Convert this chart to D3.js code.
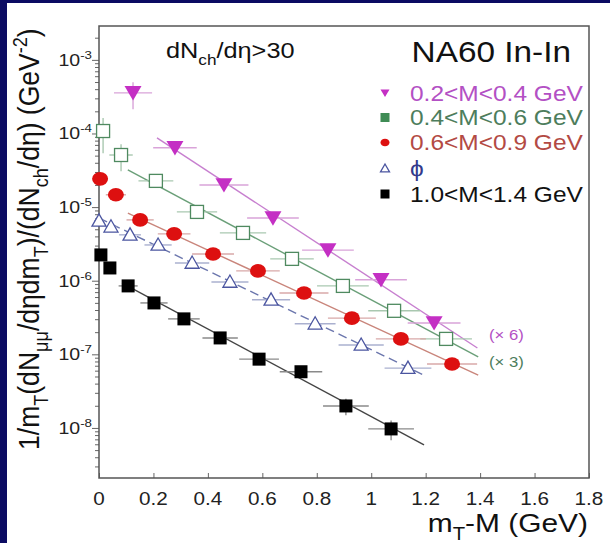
<!DOCTYPE html>
<html>
<head>
<meta charset="utf-8">
<script src="https://cdn.jsdelivr.net/npm/d3@7"></script>
<style>
body { margin: 0; background: #fff; }
svg { display: block; font-family: "Liberation Sans", Arial, sans-serif; }
</style>
</head>
<body>
<svg id="chart" width="610" height="543"></svg>
<script>
// axis ticks
var xTicks = [0, 0.2, 0.4, 0.6, 0.8, 1, 1.2, 1.4, 1.6, 1.8];
var yDecades = [-8, -7, -6, -5, -4, -3];

var legendLabels = ["0.2<M<0.4 GeV", "0.4<M<0.6 GeV", "0.6<M<0.9 GeV", "\u03d5", "1.0<M<1.4 GeV"];
var scaleNotes = ["(\u00d7 6)", "(\u00d7 3)"];

// 0.2<M<0.4 (x6)
var lowX = [0.125, 0.279, 0.459, 0.639, 0.841, 1.036, 1.231];
var lowY = [3.56e-4, 6.4e-5, 2.0e-5, 7.1e-6, 2.6e-6, 1.03e-6, 2.67e-7];
var lowXErr = [0.07, 0.08, 0.09, 0.095, 0.095, 0.095, 0.097];
var lowYErr = [0.4, 0, 0, 0, 0, 0, 0];

// 0.4<M<0.6 (x3)
var midX = [0.015, 0.081, 0.209, 0.36, 0.529, 0.709, 0.896, 1.084, 1.275];
var midY = [1.08e-4, 5.1e-5, 2.27e-5, 8.6e-6, 4.46e-6, 1.98e-6, 8.5e-7, 3.9e-7, 1.62e-7];
var midXErr = [0.025, 0.043, 0.064, 0.074, 0.085, 0.08, 0.095, 0.095, 0.095];
var midYErr = [0.5, 0.4, 0, 0, 0, 0, 0, 0, 0];

// 0.6<M<0.9
var omX = [0.004, 0.062, 0.151, 0.276, 0.419, 0.584, 0.753, 0.929, 1.109, 1.297];
var omY = [2.42e-5, 1.47e-5, 6.7e-6, 4.33e-6, 2.31e-6, 1.36e-6, 6.8e-7, 3.1e-7, 1.62e-7, 7.4e-8];
var omXErr = [0.01, 0.037, 0.05, 0.06, 0.077, 0.08, 0.09, 0.088, 0.092, 0.092];

// phi
var phiX = [0.0, 0.044, 0.114, 0.217, 0.342, 0.481, 0.632, 0.794, 0.963, 1.135];
var phiY = [6.5e-6, 5.4e-6, 4.2e-6, 3.06e-6, 1.74e-6, 9.6e-7, 5.5e-7, 2.6e-7, 1.34e-7, 6.5e-8];
var phiXErr = [0.018, 0.02, 0.04, 0.05, 0.063, 0.068, 0.07, 0.075, 0.083, 0.086];

// 1.0<M<1.4
var highX = [0.007, 0.04, 0.107, 0.202, 0.312, 0.445, 0.588, 0.742, 0.907, 1.073];
var highY = [2.24e-6, 1.49e-6, 8.5e-7, 4.99e-7, 3.03e-7, 1.67e-7, 8.6e-8, 5.8e-8, 1.99e-8, 9.7e-9];
var highXErr = [0.01, 0.012, 0.035, 0.05, 0.058, 0.065, 0.073, 0.078, 0.084, 0.084];
var highYErr = [0, 0, 0, 0, 0, 0, 0, 0, 0.25, 0.3];

// exponential fits (end points, in plot order above)
var fitX0 = [0.213, 0.106, 0.106, 0.0, 0.085];
var fitX1 = [1.39, 1.393, 1.393, 1.194, 1.194];
var fitY0 = [8.7e-5, 3.2e-5, 8.3e-6, 7.1e-6, 9.3e-7];
var fitY1 = [1.22e-7, 9.2e-8, 5.2e-8, 5.2e-8, 5.9e-9];

// picture is a bit stretched sideways, text follows that
var SX = 1.15;

var series = [
    {x: lowX, y: lowY, xe: lowXErr, ye: lowYErr, shape: 'tridown', size: 17, fill: '#c42fc4', stroke: '#c42fc4', bar: '#d9a3d9', fit: '#c77fcf', text: '#b350c4'},
    {x: midX, y: midY, xe: midXErr, ye: midYErr, shape: 'opensquare', size: 13, fill: '#3f8c55', stroke: '#4f8a60', bar: '#a9c8b0', fit: '#6a9f78', text: '#4d7d5c'},
    {x: omX, y: omY, xe: omXErr, ye: null, shape: 'circle', size: 16, fill: '#dd1010', stroke: '#dd1010', bar: '#d8a8a8', fit: '#c9857b', text: '#b34a44'},
    {x: phiX, y: phiY, xe: phiXErr, ye: null, shape: 'opentri', size: 14, fill: '#4b55a0', stroke: '#4b55a0', bar: '#aab0cf', fit: '#6b76ad', text: '#333a8c', dash: '9,5'},
    {x: highX, y: highY, xe: highXErr, ye: highYErr, shape: 'square', size: 13, fill: '#000', stroke: '#000', bar: '#8a8a8a', fit: '#444', text: '#111'}
];

var svg = d3.select('#chart');
var W = 610, H = 543;
var margin = {left: 99, right: 21, top: 26, bottom: 65};

svg.append('rect').attr('width', W).attr('height', H).attr('fill', '#fff');
svg.append('rect').attr('width', W).attr('height', 3).attr('fill', '#0b0b62');
svg.append('rect').attr('width', 7).attr('height', H).attr('fill', '#0b0b62');

var x = d3.scaleLinear().domain([0, 1.8]).range([margin.left, W - margin.right]);
var y = d3.scaleLog().domain([Math.pow(10, -8.68), Math.pow(10, -2.54)]).range([H - margin.bottom, margin.top]);

function richText(t, parts, size) {
    var shift = 0;
    parts.forEach(function(p) {
        var target = p[1] == 'sub' ? size * 0.3 : (p[1] == 'sup' ? -size * 0.42 : 0);
        t.append('tspan')
            .attr('dy', target - shift)
            .attr('font-size', p[1] ? size * 0.68 : size)
            .text(p[0]);
        shift = target;
    });
    return t;
}

// anchor by measuring, text-anchor drifts with the scaled tspans
function label(px, py, parts, size, color, anchor) {
    var t = svg.append('text')
        .attr('font-size', size)
        .attr('fill', color || '#111');
    richText(t, parts, size);
    var w = t.node().getComputedTextLength();
    var shiftX = anchor == 'end' ? -w * SX : (anchor == 'middle' ? -w * SX / 2 : 0);
    t.attr('transform', 'translate(' + (px + shiftX) + ',' + py + ') scale(' + SX + ',1)');
    return t;
}

// axes
var majors = yDecades.map(function(d) { return Math.pow(10, d); });
var minors = [];
d3.range(-9, -2).forEach(function(d) {
    for (var k = 2; k < 10; k++) {
        var v = k * Math.pow(10, d);
        if (v > y.domain()[0] && v < y.domain()[1]) minors.push(v);
    }
});

svg.append('g')
    .attr('transform', 'translate(' + margin.left + ',0)')
    .call(d3.axisLeft(y).tickValues(minors).tickSize(4).tickFormat(''))
    .call(function(g) { g.select('.domain').remove(); g.selectAll('line').attr('stroke', '#666'); });
svg.append('g')
    .attr('transform', 'translate(' + margin.left + ',0)')
    .call(d3.axisLeft(y).tickValues(majors).tickSize(7).tickFormat(''))
    .call(function(g) { g.select('.domain').remove(); g.selectAll('line').attr('stroke', '#666'); });

var xAxis = svg.append('g')
    .attr('transform', 'translate(0,' + (H - margin.bottom) + ')')
    .call(d3.axisBottom(x).tickValues(xTicks).tickSize(-5).tickFormat(''));
xAxis.select('.domain').remove();
xAxis.selectAll('line').attr('stroke', '#666');
xTicks.forEach(function(d) {
    label(x(d), H - margin.bottom + 27, [[String(d)]], 18, '#222', 'middle');
});

yDecades.forEach(function(d) {
    label(92, y(Math.pow(10, d)) + 6, [['10'], [String(d), 'sup']], 17, '#222', 'end');
});

// frame
svg.append('rect')
    .attr('x', margin.left).attr('y', margin.top)
    .attr('width', W - margin.left - margin.right)
    .attr('height', H - margin.top - margin.bottom)
    .attr('fill', 'none').attr('stroke', '#555').attr('stroke-width', 1.5);

var plot = svg.append('g');

// fits
series.forEach(function(s, i) {
    plot.append('line')
        .attr('x1', x(fitX0[i])).attr('y1', y(fitY0[i]))
        .attr('x2', x(fitX1[i])).attr('y2', y(fitY1[i]))
        .attr('stroke', s.fit).attr('stroke-width', 1.4)
        .attr('stroke-dasharray', s.dash || null);
});

// error bars
series.forEach(function(s) {
    s.x.forEach(function(xv, j) {
        plot.append('line')
            .attr('x1', x(xv - s.xe[j])).attr('x2', x(xv + s.xe[j]))
            .attr('y1', y(s.y[j])).attr('y2', y(s.y[j]))
            .attr('stroke', s.bar).attr('stroke-width', 1.4);
        if (s.ye && s.ye[j]) {
            plot.append('line')
                .attr('x1', x(xv)).attr('x2', x(xv))
                .attr('y1', y(s.y[j] * (1 - s.ye[j]))).attr('y2', y(s.y[j] * (1 + s.ye[j])))
                .attr('stroke', s.bar).attr('stroke-width', 1.4);
        }
    });
});

function marker(g, shape, cx, cy, sz, s) {
    var h = sz / 2;
    if (shape == 'tridown') {
        g.append('path').attr('d', 'M' + (cx - h) + ',' + (cy - h * 0.8) + 'L' + (cx + h) + ',' + (cy - h * 0.8) + 'L' + cx + ',' + (cy + h * 0.9) + 'Z')
            .attr('fill', s.fill);
    } else if (shape == 'opentri') {
        g.append('path').attr('d', 'M' + cx + ',' + (cy - h) + 'L' + (cx + h) + ',' + (cy + h * 0.75) + 'L' + (cx - h) + ',' + (cy + h * 0.75) + 'Z')
            .attr('fill', '#fff').attr('stroke', s.stroke).attr('stroke-width', 1.3);
    } else if (shape == 'opensquare') {
        g.append('rect').attr('x', cx - h).attr('y', cy - h).attr('width', sz).attr('height', sz)
            .attr('fill', '#fff').attr('stroke', s.stroke).attr('stroke-width', 1.3);
    } else if (shape == 'square') {
        g.append('rect').attr('x', cx - h).attr('y', cy - h).attr('width', sz).attr('height', sz)
            .attr('fill', s.fill);
    } else {
        g.append('ellipse').attr('cx', cx).attr('cy', cy).attr('rx', h).attr('ry', h * 0.85)
            .attr('fill', s.fill);
    }
}

series.forEach(function(s) {
    s.x.forEach(function(xv, j) {
        marker(plot, s.shape, x(xv), y(s.y[j]), s.size, s);
    });
});

// texts
label(166, 58, [['dN'], ['ch', 'sub'], ['/d\u03b7>30']], 22, '#111');
label(571, 62, [['NA60 In-In']], 29, '#111', 'end');

var legendY = [93, 117.5, 142.5, 168.5, 194];
var legendShapes = ['tridown', 'square', 'circle', 'opentri', 'square'];
series.forEach(function(s, i) {
    marker(svg, legendShapes[i], 385, legendY[i], 9, s);
    label(410, legendY[i] + 7.5, [[legendLabels[i]]], 21.3, s.text);
});

label(489, 340, [[scaleNotes[0]]], 14.5, series[0].text);
label(489, 366.5, [[scaleNotes[1]]], 14.5, series[1].text);

// axis titles
label(588, 532, [['m'], ['T', 'sub'], ['-M (GeV)']], 26, '#111', 'end');

var yt = svg.append('text')
    .attr('font-size', 25)
    .attr('fill', '#111');
richText(yt, [['1/m'], ['T', 'sub'], ['(dN'], ['\u03bc\u03bc', 'sub'], ['/d\u03b7dm'], ['T', 'sub'],
    [')/(dN'], ['ch', 'sub'], ['/d\u03b7) (GeV'], ['-2', 'sup'], [')']], 25);
// stretch along the axis so it spans the same height as the reference (about 422px)
var ytLen = yt.node().getComputedTextLength();
yt.attr('transform', 'translate(39,450) rotate(-90) scale(' + (422 / ytLen) + ',' + SX + ')');
</script>
</body>
</html>
